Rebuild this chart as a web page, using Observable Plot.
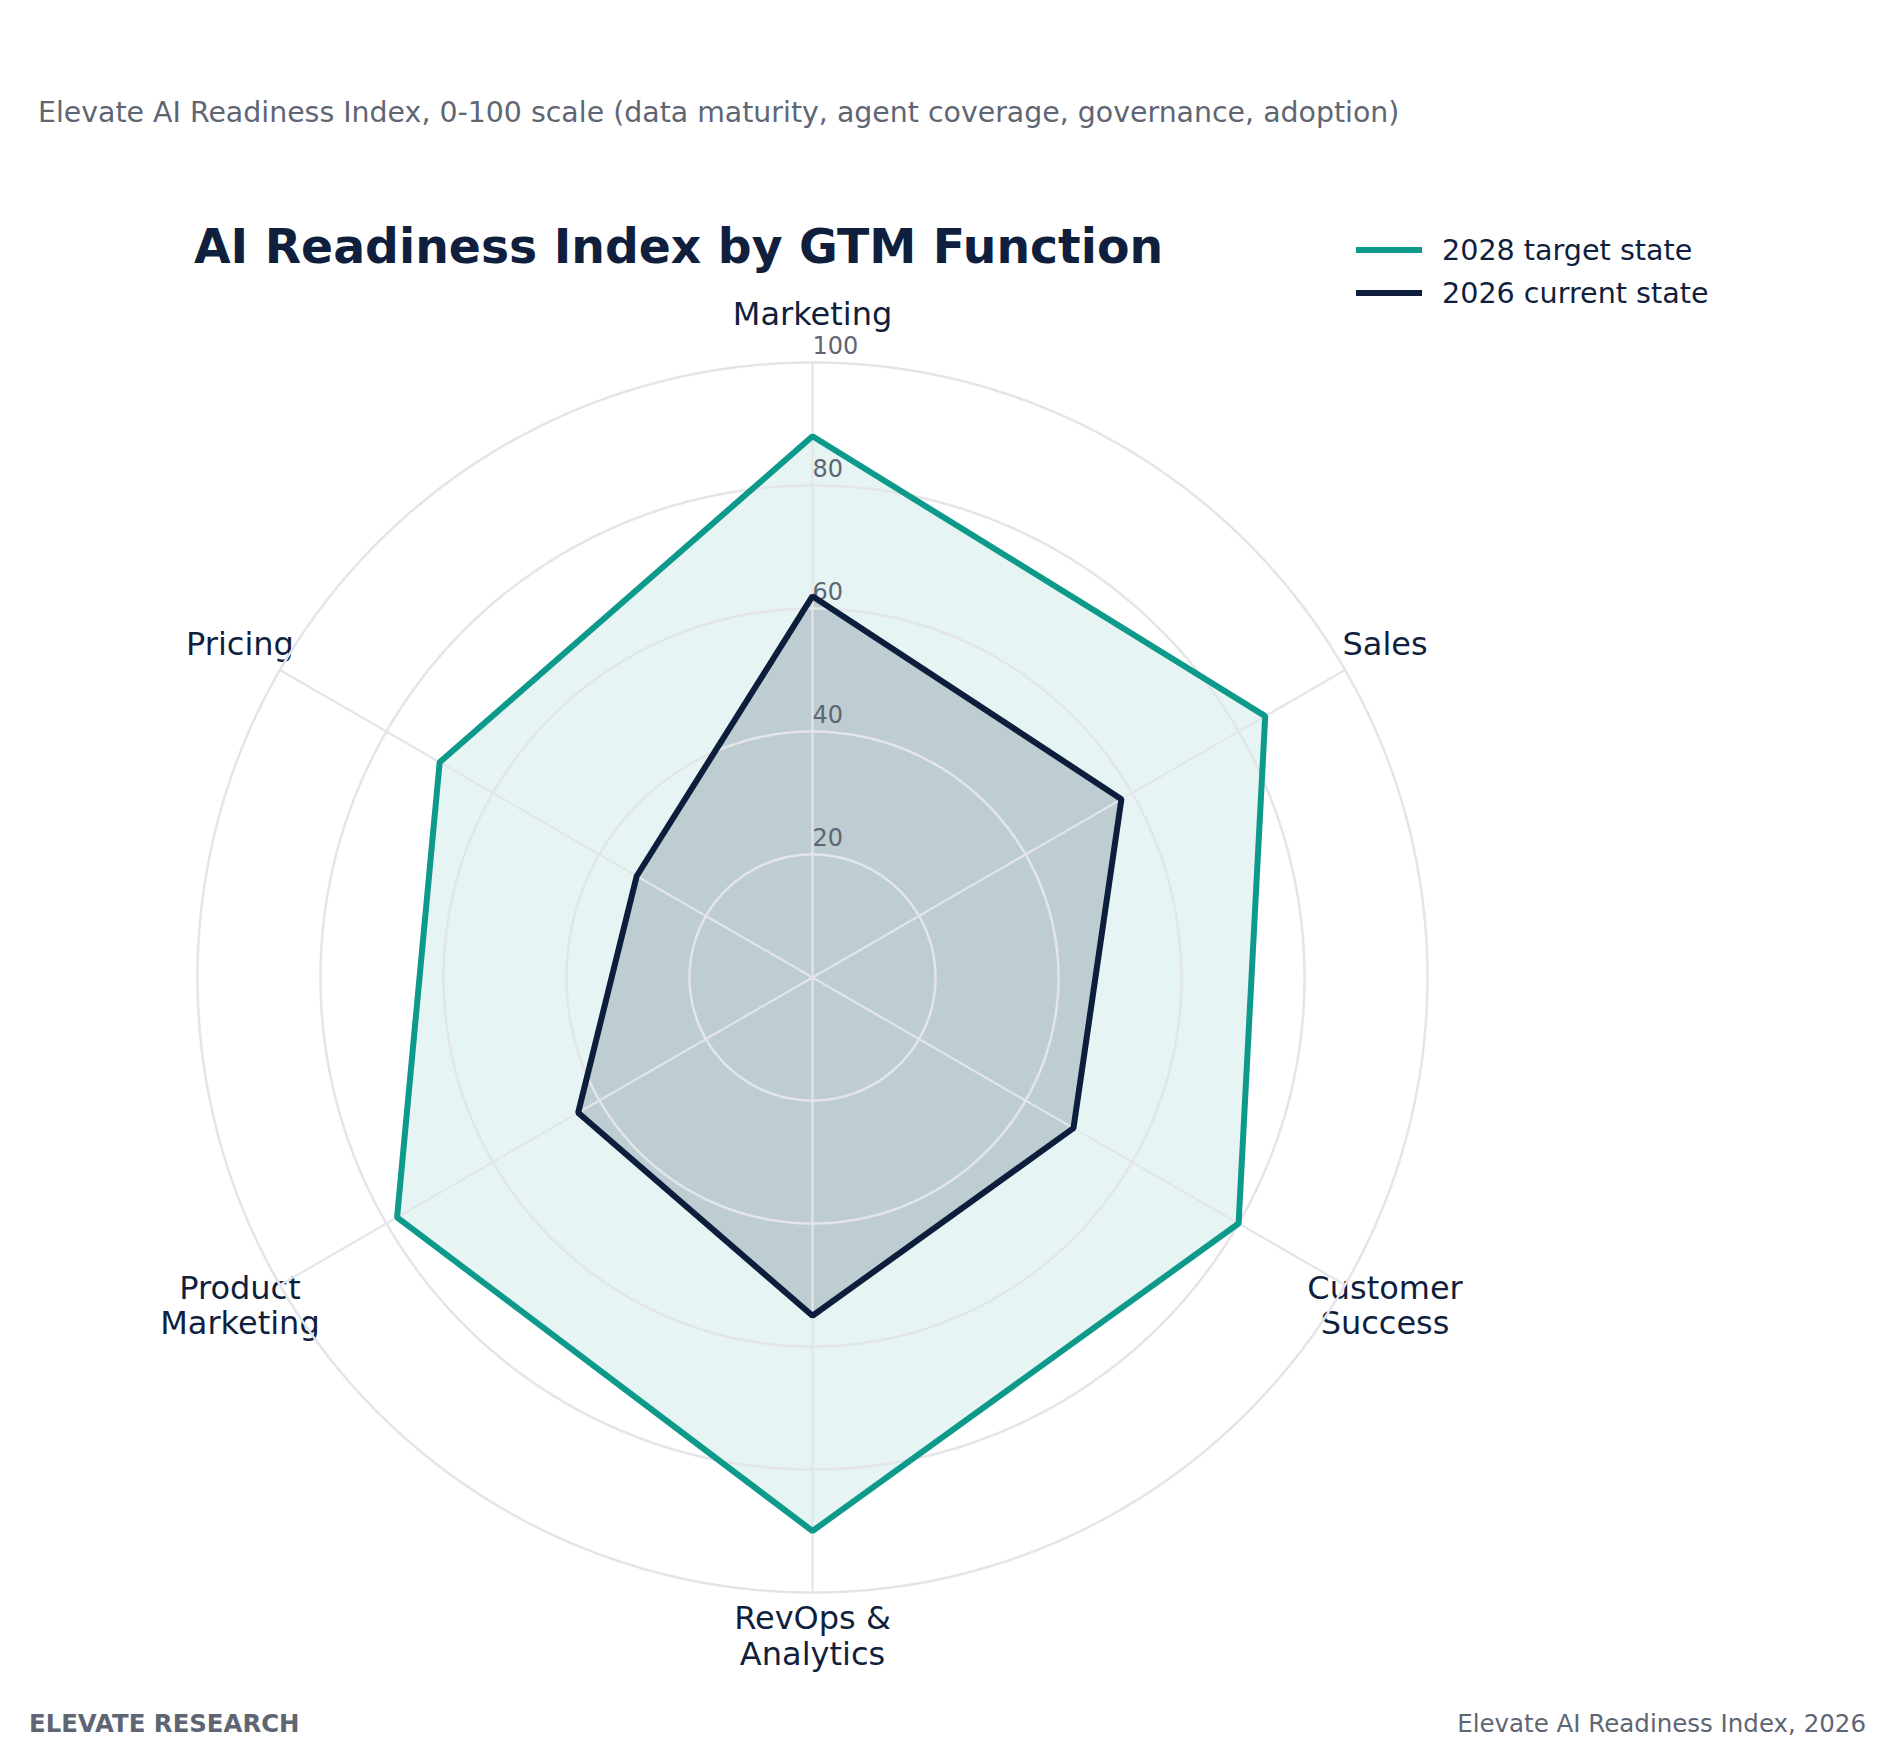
<!DOCTYPE html>
<html>
<head>
<meta charset="utf-8">
<script src="https://cdn.jsdelivr.net/npm/d3@7"></script>
<script src="https://cdn.jsdelivr.net/npm/@observablehq/plot@0.6"></script>
<style>
  body { margin: 0; background: #ffffff; font-family: "DejaVu Sans", sans-serif; }
  #wrap { position: relative; width: 1892px; height: 1760px; overflow: hidden; background: #ffffff; }
  #wrap svg { position: absolute; left: 0; top: 0; }
  .t { position: absolute; white-space: nowrap; }
  .sw { position: absolute; width: 66px; height: 6px; }
</style>
</head>
<body>
<div id="wrap"></div>
<script>
// ---- data ----
const categories = ["Marketing", "Sales", "Customer\nSuccess", "RevOps &\nAnalytics", "Product\nMarketing", "Pricing"];
const target2028 = [88, 85, 80, 90, 78, 70];
const current2026 = [62, 58, 49, 55, 44, 33];
const radialTicks = [20, 40, 60, 80, 100];
const seriesNames = ["2028 target state", "2026 current state"];

// ---- styles ----
const teal = "#0e9a8b";
const navy = "#0c1e3c";
const gridColor = "#e3e5ea";
const k = 0.01;          // degrees of colatitude per index point
const labelRadius = 107.5;

const rows = categories.map((c, i) => ({
  category: c,
  lon: 180 - i * 60,
  target: target2028[i],
  current: current2026[i]
}));

const ring = (r) => d3.geoCircle().center([0, 90]).radius(r * k).precision(0.5)();

const chart = Plot.plot({
  width: 1892,
  height: 1760,
  marginLeft: 197,
  marginRight: 465,
  marginTop: 362,
  marginBottom: 168,
  projection: { type: "azimuthal-equidistant", rotate: [0, -90], domain: ring(100), inset: 0, clip: false },
  style: { background: "transparent", fontFamily: "DejaVu Sans", overflow: "visible" },
  marks: [
    Plot.text(rows, {
      x: "lon", y: () => 90 - labelRadius * k, text: "category", dy: -3,
      fontSize: 32, fill: "#0f1f3d", textAnchor: "middle", lineAnchor: "middle", lineHeight: 1.1
    }),
    Plot.line(rows, { x: "lon", y: (d) => 90 - d.target * k, curve: "linear-closed", fill: teal, fillOpacity: 0.1, stroke: "none" }),
    Plot.line(rows, { x: "lon", y: (d) => 90 - d.current * k, curve: "linear-closed", fill: navy, fillOpacity: 0.18, stroke: "none" }),
    Plot.geo(radialTicks, { geometry: ring, fill: "none", stroke: gridColor, strokeWidth: 2.5 }),
    Plot.link(rows, { x1: "lon", y1: 90 - 100 * k, x2: "lon", y2: 90, stroke: gridColor, strokeWidth: 2.2 }),
    Plot.text(radialTicks, {
      x: 180, y: (t) => 90 - t * k, text: (t) => String(t),
      fontSize: 24, fill: "#5f6673", textAnchor: "start", lineAnchor: "bottom", dx: 0, dy: -9
    }),
    Plot.line(rows, { x: "lon", y: (d) => 90 - d.target * k, curve: "linear-closed", stroke: teal, strokeWidth: 6, strokeLinejoin: "miter" }),
    Plot.line(rows, { x: "lon", y: (d) => 90 - d.current * k, curve: "linear-closed", stroke: navy, strokeWidth: 6, strokeLinejoin: "miter" })
  ]
});

const wrap = document.getElementById("wrap");
wrap.appendChild(chart);

// text helper: position by baseline (DejaVu Sans baseline at 0.846em with line-height = 1em)
function addText(str, { left, right, baseline, size, weight = "normal", color }) {
  const el = document.createElement("div");
  el.className = "t";
  el.textContent = str;
  el.style.fontSize = size + "px";
  el.style.lineHeight = size + "px";
  el.style.fontWeight = weight;
  el.style.color = color;
  el.style.top = (baseline - 0.846 * size) + "px";
  if (left != null) el.style.left = left + "px";
  if (right != null) el.style.right = right + "px";
  wrap.appendChild(el);
}

addText("Elevate AI Readiness Index, 0-100 scale (data maturity, agent coverage, governance, adoption)",
  { left: 38, baseline: 123, size: 28.4, color: "#5f6673" });
addText("AI Readiness Index by GTM Function",
  { left: 194, baseline: 263, size: 47.3, weight: "bold", color: "#0f1f3d" });

// legend
const legendColors = [teal, navy];
const legendBaselines = [260, 303];
seriesNames.forEach((name, i) => {
  const sw = document.createElement("div");
  sw.className = "sw";
  sw.style.left = "1356px";
  sw.style.top = (legendBaselines[i] - 13) + "px";
  sw.style.background = legendColors[i];
  wrap.appendChild(sw);
  addText(name, { left: 1442, baseline: legendBaselines[i], size: 28.6, color: "#0f1f3d" });
});

addText("ELEVATE RESEARCH", { left: 29, baseline: 1733, size: 24.4, weight: "bold", color: "#5f6673" });
addText("Elevate AI Readiness Index, 2026", { right: 26, baseline: 1733, size: 24.5, color: "#5f6673" });
</script>
</body>
</html>
